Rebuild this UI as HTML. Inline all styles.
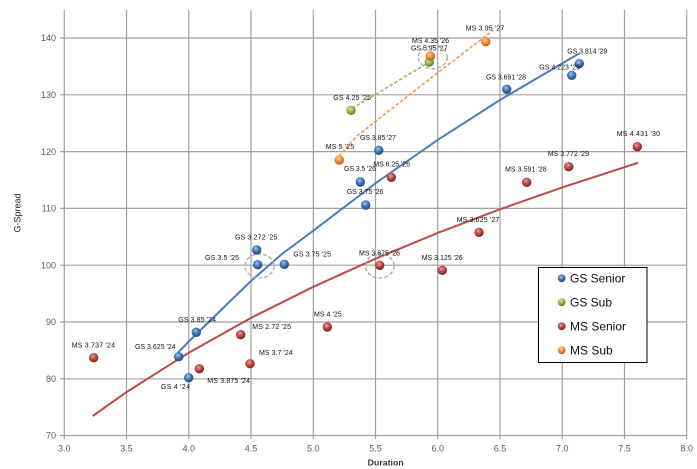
<!DOCTYPE html>
<html><head><meta charset="utf-8"><style>
html,body{margin:0;padding:0;background:#fff;}
svg{display:block;font-family:"Liberation Sans",sans-serif;}
</style></head><body>
<svg width="697" height="469" viewBox="0 0 697 469" xmlns="http://www.w3.org/2000/svg">
<defs>
<radialGradient id="gb" cx="42%" cy="35%" r="65%"><stop offset="0" stop-color="#a9c6ec"/><stop offset="0.45" stop-color="#4a7cc0"/><stop offset="1" stop-color="#1f4577"/></radialGradient>
<radialGradient id="gr" cx="42%" cy="35%" r="65%"><stop offset="0" stop-color="#eba09e"/><stop offset="0.45" stop-color="#c0504d"/><stop offset="1" stop-color="#7a201d"/></radialGradient>
<radialGradient id="gg" cx="42%" cy="35%" r="65%"><stop offset="0" stop-color="#d6e8a8"/><stop offset="0.45" stop-color="#9bbb59"/><stop offset="1" stop-color="#5b7a24"/></radialGradient>
<radialGradient id="go" cx="42%" cy="35%" r="65%"><stop offset="0" stop-color="#fcd0a6"/><stop offset="0.45" stop-color="#f79646"/><stop offset="1" stop-color="#b65a0c"/></radialGradient>
</defs>
<rect width="697" height="469" fill="#fff"/>
<!-- gridlines -->
<g stroke="#a0a0a0" stroke-width="1.2" fill="none">
<line x1="64.3" y1="10" x2="64.3" y2="439"/>
<line x1="126.5" y1="10" x2="126.5" y2="439"/>
<line x1="188.8" y1="10" x2="188.8" y2="439"/>
<line x1="251" y1="10" x2="251" y2="439"/>
<line x1="313.3" y1="10" x2="313.3" y2="439"/>
<line x1="375.5" y1="10" x2="375.5" y2="439"/>
<line x1="437.7" y1="10" x2="437.7" y2="439"/>
<line x1="500" y1="10" x2="500" y2="439"/>
<line x1="562.2" y1="10" x2="562.2" y2="439"/>
<line x1="624.5" y1="10" x2="624.5" y2="439"/>
<line x1="686.7" y1="10" x2="686.7" y2="439"/>
<line x1="60" y1="38" x2="686.7" y2="38"/>
<line x1="60" y1="94.8" x2="686.7" y2="94.8"/>
<line x1="60" y1="151.6" x2="686.7" y2="151.6"/>
<line x1="60" y1="208.4" x2="686.7" y2="208.4"/>
<line x1="60" y1="265.2" x2="686.7" y2="265.2"/>
<line x1="60" y1="322" x2="686.7" y2="322"/>
<line x1="60" y1="378.8" x2="686.7" y2="378.8"/>
<line x1="60" y1="435.5" x2="686.7" y2="435.5"/>
</g>
<!-- axis tick labels -->
<g fill="#595959" font-size="9" text-anchor="end">
<text x="56" y="41.2">140</text>
<text x="56" y="98">130</text>
<text x="56" y="154.8">120</text>
<text x="56" y="211.6">110</text>
<text x="56" y="268.4">100</text>
<text x="56" y="325.2">90</text>
<text x="56" y="382">80</text>
<text x="56" y="438.7">70</text>
</g>
<g fill="#595959" font-size="9" text-anchor="middle">
<text x="64.3" y="451.5">3.0</text>
<text x="126.5" y="451.5">3.5</text>
<text x="188.8" y="451.5">4.0</text>
<text x="251" y="451.5">4.5</text>
<text x="313.3" y="451.5">5.0</text>
<text x="375.5" y="451.5">5.5</text>
<text x="437.7" y="451.5">6.0</text>
<text x="500" y="451.5">6.5</text>
<text x="562.2" y="451.5">7.0</text>
<text x="624.5" y="451.5">7.5</text>
<text x="686.7" y="451.5">8.0</text>
</g>
<text x="367.7" y="465.5" font-size="8.5" font-weight="bold" fill="#333" textLength="36" lengthAdjust="spacingAndGlyphs">Duration</text>
<text transform="translate(20.3,232.5) rotate(-90)" font-size="9" fill="#222" textLength="39" lengthAdjust="spacingAndGlyphs">G-Spread</text>

<!-- trendlines -->
<polyline fill="none" stroke="#be4b48" stroke-width="2" points="92.7,416 126.5,392.1 188.8,352.7 251,317.9 313.3,286.8 375.5,258.7 437.7,232.9 500,209.3 562.2,187.4 638.3,162.7"/>
<polyline fill="none" stroke="#4a7ebb" stroke-width="2" points="176.7,354 188.8,341.5 220,311 251,281 282,254 313.3,230.7 375.5,183.3 437.7,139.9 500,100 579.3,53.4"/>
<line x1="352" y1="108.5" x2="430" y2="61.7" stroke="#9bbb59" stroke-width="1.6" stroke-dasharray="3.5,2"/>
<polyline fill="none" stroke="#f79646" stroke-width="1.6" stroke-dasharray="3.5,2" points="338.5,156.5 357,136 376,121 437.3,73 493,30.5"/>

<!-- dashed circles -->
<g fill="none" stroke="#a8a8a8" stroke-width="1.3" stroke-dasharray="4,2">
<ellipse cx="432.8" cy="57.2" rx="14.5" ry="11.5"/>
<ellipse cx="259.5" cy="266" rx="14.5" ry="12"/>
<ellipse cx="379.8" cy="266" rx="14.3" ry="12"/>
</g>

<!-- points -->
<g fill="url(#gb)">
<circle cx="579.3" cy="63.7" r="4.7"/><circle cx="571.7" cy="75.3" r="4.7"/><circle cx="506.7" cy="89.3" r="4.7"/>
<circle cx="378.7" cy="150.3" r="4.7"/><circle cx="360.3" cy="182" r="4.7"/><circle cx="365.7" cy="205" r="4.7"/>
<circle cx="256.7" cy="250" r="4.7"/><circle cx="257.7" cy="264.7" r="4.7"/><circle cx="284.3" cy="264.3" r="4.7"/>
<circle cx="196.3" cy="332.3" r="4.7"/><circle cx="178.7" cy="356.7" r="4.7"/><circle cx="188.7" cy="377.7" r="4.7"/>
</g>
<g fill="url(#gg)">
<circle cx="351" cy="110.3" r="4.7"/><circle cx="429.3" cy="62" r="4.7"/>
</g>
<g fill="url(#gr)">
<circle cx="637.3" cy="146.7" r="4.7"/><circle cx="568.7" cy="166.7" r="4.7"/><circle cx="526.7" cy="182.3" r="4.7"/>
<circle cx="391.3" cy="177.3" r="4.7"/><circle cx="479" cy="232.3" r="4.7"/><circle cx="379.7" cy="265.3" r="4.7"/>
<circle cx="442.3" cy="270.3" r="4.7"/><circle cx="93.7" cy="357.7" r="4.7"/><circle cx="199.3" cy="368.7" r="4.7"/>
<circle cx="240.7" cy="334.7" r="4.7"/><circle cx="250" cy="363.7" r="4.7"/><circle cx="327.3" cy="327" r="4.7"/>
</g>
<g fill="url(#go)">
<circle cx="485.7" cy="41.7" r="4.7"/><circle cx="430.3" cy="56" r="4.7"/><circle cx="339.3" cy="160" r="4.7"/>
</g>

<!-- data labels -->
<g font-size="7" fill="#111" lengthAdjust="spacingAndGlyphs">
<text x="567.3" y="53.5" textLength="40">GS 3.814 '29</text>
<text x="539.3" y="69.5" textLength="40.7">GS 4.223 '29</text>
<text x="486" y="79.5" textLength="40">GS 3.691 '28</text>
<text x="616.7" y="136" textLength="43.3">MS 4.431 '30</text>
<text x="547.7" y="156" textLength="41.3">MS 3.772 '29</text>
<text x="505" y="171.5" textLength="41.7">MS 3.591 '28</text>
<text x="465.7" y="30.5" textLength="38.6">MS 3.95 '27</text>
<text x="412" y="43" textLength="37">MS 4.35 '26</text>
<text x="411" y="50.5" textLength="36.5">GS 5.95 '27</text>
<text x="333.3" y="100" textLength="37.7">GS 4.25 '25</text>
<text x="360" y="140" textLength="36">GS 3.85 '27</text>
<text x="325.7" y="149" textLength="28.6">MS 5 '25</text>
<text x="344" y="171" textLength="32">GS 3.5 '26</text>
<text x="373.3" y="166.5" textLength="36.7">MS 6.25 '26</text>
<text x="346.7" y="194" textLength="36.6">GS 3.75 '26</text>
<text x="456.7" y="222.2" textLength="42.6">MS 3.625 '27</text>
<text x="235" y="239.5" textLength="42.3">GS 3.272 '25</text>
<text x="205" y="260" textLength="34">GS 3.5 '25</text>
<text x="293.3" y="256.5" textLength="37.7">GS 3.75 '25</text>
<text x="178.3" y="322.2" textLength="37.7">GS 3.85 '24</text>
<text x="252.3" y="329.2" textLength="38.7">MS 2.72 '25</text>
<text x="71.7" y="347.3" textLength="43.3">MS 3.737 '24</text>
<text x="135" y="349" textLength="40.7">GS 3.625 '24</text>
<text x="259" y="355" textLength="33.7">MS 3.7 '24</text>
<text x="161" y="389.2" textLength="29">GS 4 '24</text>
<text x="207.3" y="383" textLength="42.7">MS 3.875 '24</text>
<text x="314" y="316.5" textLength="27.7">MS 4 '25</text>
<text x="359" y="255.5" textLength="41">MS 3.875 '26</text>
<text x="421.7" y="260" textLength="41">MS 3.125 '26</text>
</g>

<!-- legend -->
<rect x="538.5" y="267.5" width="108.5" height="95" fill="#fff" stroke="#000" stroke-width="1"/>
<circle cx="561.7" cy="278.3" r="3.9" fill="url(#gb)"/>
<circle cx="561.7" cy="302.3" r="3.9" fill="url(#gg)"/>
<circle cx="561.7" cy="326.3" r="3.9" fill="url(#gr)"/>
<circle cx="561.7" cy="350.3" r="3.9" fill="url(#go)"/>
<g font-size="12" fill="#111">
<text x="570" y="282.7">GS Senior</text>
<text x="570" y="306.7">GS Sub</text>
<text x="570" y="330.7">MS Senior</text>
<text x="570" y="354.7">MS Sub</text>
</g>
</svg>
</body></html>
